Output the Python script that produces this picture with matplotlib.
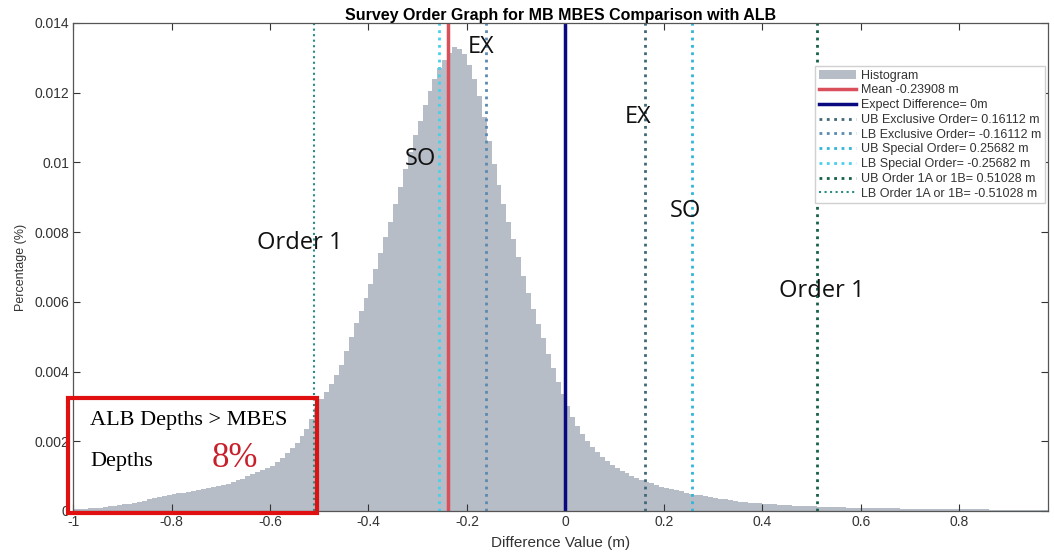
import numpy as np
import matplotlib
matplotlib.use("Agg")
import matplotlib.pyplot as plt
from matplotlib.patches import Rectangle

# histogram: bins of 0.01 m from -1.0, heights in units of 1e-4
bin_start = -1.0
bin_width = 0.01
hist_e4 = [
    0.5, 0.6, 0.7, 0.8, 0.9, 1.0, 1.2, 1.3, 1.5, 1.7,
    1.9, 2.1, 2.4, 2.7, 3.0, 3.4, 3.7, 4.0, 4.3, 4.6,
    4.9, 5.1, 5.3, 5.5, 5.7, 6.0, 6.2, 6.5, 6.8, 7.1,
    7.4, 7.8, 8.3, 8.8, 9.3, 9.9, 10.5, 11.1, 11.7, 12.3,
    13.0, 14.0, 15.2, 16.5, 18.0, 19.6, 21.5, 23.5, 26.5, 29.5,
    32, 34, 36.5, 39, 42, 46, 50, 54, 57.5, 61,
    65, 69.5, 74, 78.5, 83, 88, 93, 98, 103, 108,
    112, 116.5, 120.5, 124, 127, 129.5, 131.5, 133, 132.5, 131,
    128, 124, 119, 113, 106, 99.5, 93.5, 88, 83, 78,
    73, 67.5, 62.5, 58, 53.5, 49.5, 45, 41, 37, 33.5,
    30, 27, 24.5, 22, 20, 18.5, 17, 15.5, 14.3, 13.3,
    12.4, 11.6, 10.8, 10.1, 9.5, 8.9, 8.4, 7.9, 7.4, 7.0,
    6.6, 6.3, 5.9, 5.6, 5.3, 5.0, 4.7, 4.5, 4.2, 4.0,
    3.7, 3.5, 3.3, 3.1, 2.9, 2.7, 2.6, 2.4, 2.3, 2.2,
    2.1, 2.0, 1.9, 1.8, 1.7, 1.6, 1.5, 1.45, 1.4, 1.35,
    1.3, 1.25, 1.2, 1.15, 1.1, 1.1, 1.05, 1.0, 1.0, 0.95,
    0.9, 0.9, 0.85, 0.85, 0.8, 0.8, 0.75, 0.75, 0.7, 0.7,
    0.65, 0.65, 0.6, 0.6, 0.6, 0.55, 0.55, 0.55, 0.5, 0.5,
    0.5, 0.5, 0.45, 0.45, 0.45, 0.45, 0.4, 0.4, 0.4, 0.4,
    0.4, 0.35, 0.35, 0.35, 0.35, 0.35, 0.3, 0.3, 0.3,
]

mean_diff = -0.23908
expect_diff = 0.0
exclusive_tol = 0.16112
special_tol = 0.25682
order1_tol = 0.51028

heights = np.array(hist_e4) * 1e-4
centers = bin_start + bin_width * (np.arange(len(heights)) + 0.5)

plt.rcParams['font.family'] = ['Liberation Sans', 'DejaVu Sans']

fig = plt.figure(figsize=(10.54, 5.55), dpi=100)
ax = fig.add_axes([0.0693, 0.0793, 0.925, 0.8793])

ax.bar(centers, heights, width=bin_width, color='#b6bdc6', linewidth=0, label='Histogram')

ax.axvline(mean_diff, color='#d9505a', lw=2.5, label='Mean %.5f m' % mean_diff)
ax.axvline(expect_diff, color='#0a0a80', lw=2.5, label='Expect Difference= 0m')
ax.axvline(exclusive_tol, color='#3f6878', lw=2, ls=':', label='UB Exclusive Order= %.5f m' % exclusive_tol)
ax.axvline(-exclusive_tol, color='#5a8ab0', lw=2, ls=':', label='LB Exclusive Order= %.5f m' % -exclusive_tol)
ax.axvline(special_tol, color='#2fb6d8', lw=2, ls=':', label='UB Special Order= %.5f m' % special_tol)
ax.axvline(-special_tol, color='#45d0ee', lw=2, ls=':', label='LB Special Order= %.5f m' % -special_tol)
ax.axvline(order1_tol, color='#14604a', lw=2, ls=':', label='UB Order 1A or 1B= %.5f m' % order1_tol)
ax.axvline(-order1_tol, color='#2a8c84', lw=1.5, ls=':', label='LB Order 1A or 1B= %.5f m' % -order1_tol)

ax.set_xlim(-1, 0.98)
ax.set_ylim(0, 0.014)
ax.set_xticks([-1, -0.8, -0.6, -0.4, -0.2, 0, 0.2, 0.4, 0.6, 0.8])
ax.set_xticklabels(['-1', '-0.8', '-0.6', '-0.4', '-0.2', '0', '0.2', '0.4', '0.6', '0.8'])
ax.set_yticks([0, 0.002, 0.004, 0.006, 0.008, 0.01, 0.012, 0.014])
ax.set_yticklabels(['0', '0.002', '0.004', '0.006', '0.008', '0.01', '0.012', '0.014'])
ax.tick_params(direction='in', top=True, right=True, labelsize=10, colors='#333333',
               length=5, width=0.8, pad=3)
for s in ax.spines.values():
    s.set_color('#555555')
    s.set_linewidth(0.9)

ax.set_title('Survey Order Graph for MB MBES Comparison with ALB', fontsize=11.5,
             fontweight='bold', pad=2)
ax.set_xlabel('Difference Value (m)', fontsize=11, color='#333333', labelpad=5)
ax.set_ylabel('Percentage (%)', fontsize=9, color='#333333', labelpad=5)

handles, labels = ax.get_legend_handles_labels()
order = [len(handles) - 1] + list(range(len(handles) - 1))
leg = ax.legend([handles[i] for i in order], [labels[i] for i in order],
                loc='upper right', bbox_to_anchor=(0.997, 0.912), borderaxespad=0,
                fontsize=9, labelspacing=0.22, handlelength=3.0, handletextpad=0.4,
                fancybox=False, framealpha=1, edgecolor='#d0d0d0', borderpad=0.3)
for t in leg.get_texts():
    t.set_color('#333333')

# text annotations over the plot
ann = dict(fontsize=17, family=['Open Sans', 'DejaVu Sans'], color='#111111',
           ha='center', va='center')
ax.text(-0.172, 0.0133, 'EX', **ann)
ax.text(0.148, 0.0113, 'EX', **ann)
ax.text(-0.295, 0.0101, 'SO', **ann)
ax.text(0.243, 0.0086, 'SO', **ann)
ax.text(-0.54, 0.0077, 'Order 1', **ann)
ax.text(0.52, 0.0063, 'Order 1', **ann)

ax.add_patch(Rectangle((-1.01, -0.00006), 0.505, 0.00329, fill=False,
                       edgecolor='#e01010', lw=3, clip_on=False, zorder=5))
serif = ['Liberation Serif', 'DejaVu Serif']
ax.text(-0.965, 0.0026, 'ALB Depths > MBES', fontsize=16, family=serif, va='center', ha='left')
ax.text(-0.965, 0.00142, 'Depths', fontsize=16, family=serif, va='center', ha='left')
ax.text(-0.718, 0.00152, '8%', fontsize=25, family=serif, color='#c8202a', va='center', ha='left')

fig.savefig('out.png', dpi=100)
